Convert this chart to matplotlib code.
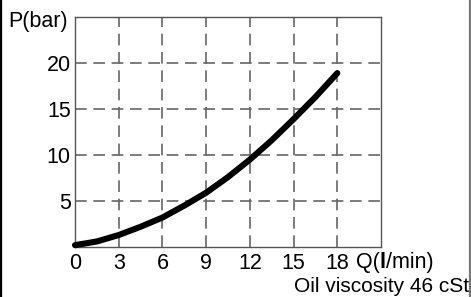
import matplotlib.pyplot as plt
from matplotlib.lines import Line2D

plt.rcParams['font.family'] = ['Liberation Sans', 'DejaVu Sans']

# valores
caudal = [0, 1.5, 3, 4.5, 6, 7.5, 9, 10.5, 12, 13.5, 15, 16.5, 18]
pressao = [0.2, 0.6, 1.3, 2.2, 3.2, 4.5, 5.9, 7.6, 9.5, 11.6, 13.9, 16.3, 18.9]
xticks = [0, 3, 6, 9, 12, 15, 18]
yticks = [5, 10, 15, 20]

FS = 15.5
W, H = 471, 297
fig = plt.figure(figsize=(W / 100, H / 100), dpi=100)
ax = fig.add_axes([75 / W, (H - 247) / H, 306 / W, 230 / H])

ax.plot(caudal, pressao, color='black', lw=4.4, solid_capstyle='round',
        zorder=5, clip_on=False)

ax.set_xlim(0, 21)
ax.set_ylim(0, 25)
ax.set_xticks(xticks)
ax.set_yticks(yticks)
ax.tick_params(length=0, labelsize=FS)
ax.tick_params(axis='x', pad=4)
ax.tick_params(axis='y', pad=3)
for v in xticks[1:]:
    ax.axvline(v, color='#666666', lw=1.2, ls=(0, (7, 4)), zorder=1)
for v in yticks:
    ax.axhline(v, color='#666666', lw=1.2, ls=(0, (7, 4)), zorder=1)
for s in ax.spines.values():
    s.set_color('#555555')
    s.set_linewidth(1.0)

fig.text(8 / W, 1 - 27 / H, 'P(bar)', fontsize=FS, va='baseline')

t1 = fig.text(356 / W, 1 - 268 / H, 'Q(', fontsize=FS, va='baseline')
t2 = ax.annotate('l', xy=(1, 0), xycoords=t1, fontsize=FS, fontweight='bold',
                 va='bottom')
ax.annotate('/min)', xy=(1, 0), xycoords=t2, fontsize=FS, va='bottom')

fig.text(469 / W, 1 - 292 / H, 'Oil viscosity 46 cSt', fontsize=15,
         ha='right', va='baseline')

# bordas da imagem
fig.add_artist(Line2D([1 / W, 1 / W], [0, 1], color='black', lw=1.6,
                      transform=fig.transFigure))
fig.add_artist(Line2D([469.5 / W, 469.5 / W], [0, 1], color='#777777',
                      lw=1.6, transform=fig.transFigure))

fig.savefig('out.png', dpi=100)
